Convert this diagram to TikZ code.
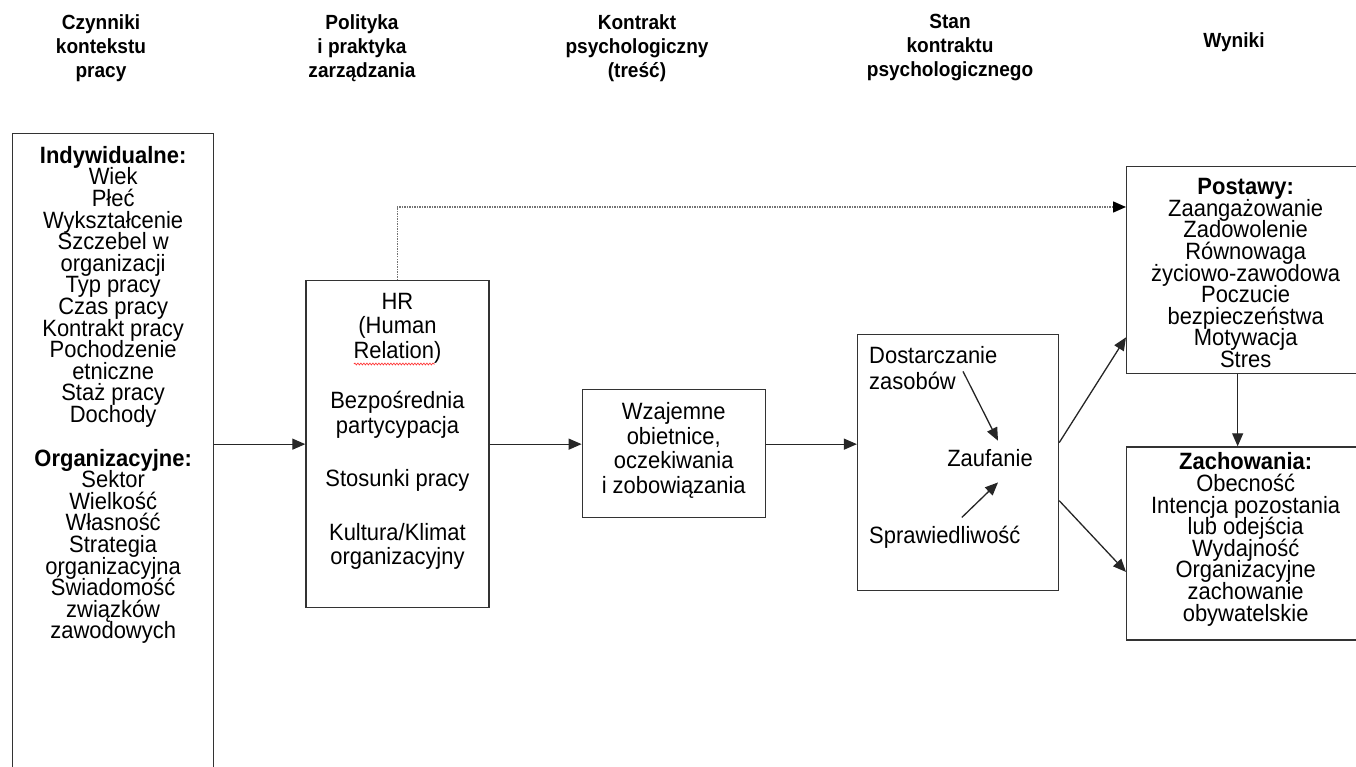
\documentclass[tikz,border=0pt]{standalone}
\usepackage{fontspec}
\setmainfont{Liberation Sans}[FakeStretch=0.93]
\usetikzlibrary{positioning, arrows.meta, decorations.pathmorphing}
\AtBeginDocument{\lineskiplimit=-100pt}

\tikzset{
  box/.style = {rectangle, draw=black!80, line width=1.3pt, inner sep=0pt},
  heading/.style = {align=center, inner sep=0pt, font=\fontsize{20.5}{24}\selectfont\bfseries},
  list/.style = {align=center, inner sep=0pt, font=\fontsize{23.6}{21.6}\selectfont},
  listwide/.style = {align=center, inner sep=0pt, font=\fontsize{23.6}{24.5}\selectfont},
  plain/.style = {inner sep=0pt, font=\fontsize{23.6}{26}\selectfont},
  arrow/.style = {line width=1.3pt, draw=black!85, -{Triangle[length=13pt,width=11pt]}},
  dotarrow/.style = {line width=1.5pt, draw=black!55, densely dotted, -{Triangle[length=13pt,width=11pt,color=black]}}
}

\begin{document}
\begin{tikzpicture}[x=1pt, y=1pt]
\useasboundingbox (0,0) rectangle (1356,-767);
\clip (0,0) rectangle (1356,-767);

% column headings
\node (h1) [heading, anchor=north] at (101,-14) {Czynniki\\kontekstu\\pracy};
\node (h2) [heading, anchor=north] at (362,-14) {Polityka\\i praktyka\\zarządzania};
\node (h3) [heading, anchor=north] at (637,-14) {Kontrakt\\psychologiczny\\(treść)};
\node (h4) [heading, anchor=north] at (950,-14) {Stan\\kontraktu\\psychologicznego};
\node (h5) [heading, anchor=north] at (1234,-32) {Wyniki};

% boxes
\node (ctx) [box, minimum width=201pt, minimum height=657pt, anchor=north west] at (12,-133) {};
\node (pol) [box, minimum width=183pt, minimum height=327pt, right=91pt of ctx, yshift=18pt] {};
\node (mut) [box, minimum width=183pt, minimum height=128pt, right=92pt of pol, yshift=-9.5pt] {};
\node (stan) [box, minimum width=201pt, minimum height=256pt, right=91pt of mut, yshift=-9pt] {};
\node (post) [box, minimum width=238pt, minimum height=207pt, anchor=north west] at (1126,-166) {};
\node (zach) [box, minimum width=238pt, minimum height=193pt, below=72pt of post] {};

% box contents
\node (ctxtxt) [list, below=13pt of ctx.north] {\textbf{Indywidualne:}\\Wiek\\Płeć\\Wykształcenie\\Szczebel w\\organizacji\\Typ pracy\\Czas pracy\\Kontrakt pracy\\Pochodzenie\\etniczne\\Staż pracy\\Dochody\\[22pt]\textbf{Organizacyjne:}\\Sektor\\Wielkość\\Własność\\Strategia\\organizacyjna\\Świadomość\\związków\\zawodowych};
\node (poltxt) [listwide, below=13pt of pol.north] {HR\\(Human\\Relation)\\[26pt]Bezpośrednia\\partycypacja\\[29pt]Stosunki pracy\\[29pt]Kultura/Klimat\\organizacyjny};
\node (muttxt) [listwide, yshift=3pt] at (mut) {Wzajemne\\obietnice,\\oczekiwania\\i zobowiązania};
\node (posttxt) [list, yshift=-3pt] at (post) {\textbf{Postawy:}\\Zaangażowanie\\Zadowolenie\\Równowaga\\życiowo-zawodowa\\Poczucie\\bezpieczeństwa\\Motywacja\\Stres};
\node (zachtxt) [list, yshift=4pt] at (zach) {\textbf{Zachowania:}\\Obecność\\Intencja pozostania\\lub odejścia\\Wydajność\\Organizacyjne\\zachowanie\\obywatelskie};
\node (dost) [plain, anchor=base west] at (869,-363) {Dostarczanie};
\node (zas) [plain, anchor=base west] at (869,-389) {zasobów};
\node (zauf) [plain, anchor=base] at (990,-466) {Zaufanie};
\node (sprw) [plain, anchor=base west] at (869,-543) {Sprawiedliwość};

% connectors
\draw [arrow] (ctx.east |- pol.west) -- (pol.west);
\draw [arrow] (pol.east) -- (pol.east -| mut.west);
\draw [arrow] (pol.east -| mut.east) -- (pol.east -| stan.west);
\draw [dotarrow] (pol.north) |- ([yshift=-41pt]post.north west);
\draw [arrow] ([xshift=7pt]zas.north east) -- ([xshift=8pt,yshift=8pt]zauf.north);
\draw [arrow] ([xshift=17pt,yshift=8pt]sprw.north) -- ([xshift=8pt,yshift=-16pt]zauf.south);
\draw [arrow] ([yshift=20pt]stan.east) -- ([yshift=37pt]post.south west);
\draw [arrow] ([yshift=-38pt]stan.east) -- ([yshift=-28.5pt]zach.west);
\draw [arrow] ([xshift=-8pt]post.south) -- ([xshift=-8pt]zach.north);

% spelling mark under Relation
\draw [red!80, line width=0.7pt, decorate, decoration={snake, amplitude=0.9pt, segment length=3pt}] ([xshift=-43.5pt,yshift=-84pt]pol.north) -- ([xshift=37.5pt,yshift=-84pt]pol.north);
\end{tikzpicture}
\end{document}
